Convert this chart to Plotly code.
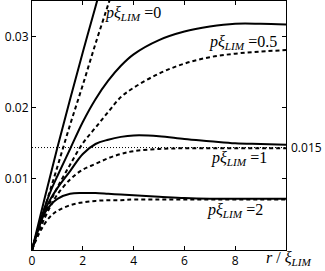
import plotly.graph_objects as go

# r / xi_LIM values and curve values
r_A = [0, 0.5, 1.0, 1.5, 2.0, 2.5, 2.6]
v_A = [0, 0.0073, 0.0144, 0.0212, 0.0278, 0.0342, 0.0355]          # p xi = 0, solid
r_B = [0, 0.5, 1.0, 1.5, 2.0, 2.5, 3.0, 3.1]
v_B = [0, 0.0059, 0.0117, 0.0176, 0.0232, 0.0290, 0.0345, 0.0356]  # p xi = 0, dashed

r_full = [0, 0.25, 0.5, 0.75, 1.0, 1.5, 2.0, 2.5, 3.0, 3.5, 4.0, 5.0, 6.0, 7.0, 8.0, 9.0, 10.0]
v_C = [0, 0.0032, 0.0060, 0.0084, 0.0104, 0.0142, 0.0180, 0.0212, 0.0238, 0.0259, 0.0275, 0.0295, 0.0307, 0.0314, 0.0318, 0.0318, 0.0317]  # 0.5 solid
v_D = [0, 0.0027, 0.0050, 0.0070, 0.0088, 0.0120, 0.0150, 0.0172, 0.0194, 0.0215, 0.0228, 0.0248, 0.0262, 0.0271, 0.0276, 0.0279, 0.0281]  # 0.5 dashed
v_E = [0, 0.0030, 0.0055, 0.0073, 0.0087, 0.0111, 0.0135, 0.0149, 0.0155, 0.0159, 0.0161, 0.0160, 0.0156, 0.0153, 0.0150, 0.0149, 0.0148]  # 1 solid
v_F = [0, 0.0024, 0.0045, 0.0063, 0.0078, 0.0099, 0.0113, 0.0121, 0.0129, 0.0135, 0.0139, 0.0142, 0.0143, 0.0143, 0.0143, 0.0143, 0.0143]  # 1 dashed
v_G = [0, 0.0029, 0.0052, 0.0064, 0.0072, 0.0079, 0.0080, 0.0080, 0.0079, 0.0078, 0.0077, 0.0075, 0.0073, 0.0072, 0.0072, 0.0072, 0.0072]  # 2 solid
v_H = [0, 0.0021, 0.0037, 0.0048, 0.0055, 0.0063, 0.0067, 0.0069, 0.0070, 0.0070, 0.0071, 0.0071, 0.0071, 0.0071, 0.0071, 0.0071, 0.0071]  # 2 dashed

asymptote = 0.0144
asym_label = "0.015"

x_ticks = [0, 2, 4, 6, 8]
y_ticks = [0.01, 0.02, 0.03]

fig = go.Figure()

solid = dict(color="black", width=2)
dashed = dict(color="black", width=2, dash="4px,3px")

fig.add_trace(go.Scatter(x=[0, 10], y=[asymptote, asymptote], mode="lines",
                         line=dict(color="black", width=1, dash="1px,2px")))
fig.add_trace(go.Scatter(x=r_A, y=v_A, mode="lines", line=solid, line_shape="spline"))
fig.add_trace(go.Scatter(x=r_B, y=v_B, mode="lines", line=dashed, line_shape="spline"))
for v, ln in [(v_C, solid), (v_D, dashed), (v_E, solid), (v_F, dashed), (v_G, solid), (v_H, dashed)]:
    fig.add_trace(go.Scatter(x=r_full, y=v, mode="lines", line=ln, line_shape="spline"))

serif = dict(family="Liberation Serif", size=16, color="black")
lab = "<i>pξ<sub>LIM</sub></i> ="
for txt, xx, yy in [(lab + "0", 2.8, 0.0332), (lab + "0.5", 6.9, 0.0291),
                    (lab + "1", 6.95, 0.0129), (lab + "2", 6.8, 0.0055)]:
    fig.add_annotation(x=xx, y=yy, text=txt, showarrow=False, xanchor="left",
                       yanchor="middle", font=serif)

fig.add_annotation(x=1.0, y=asymptote, xref="paper", text=asym_label, showarrow=False,
                   xanchor="left", xshift=3, yanchor="middle",
                   font=dict(family="Open Sans", size=12, color="black"))
fig.add_annotation(x=1.0, y=0, xref="paper", yref="paper", text="<i>r</i> / <i>ξ<sub>LIM</sub></i>",
                   showarrow=False, xanchor="center", yanchor="top", yshift=3, xshift=2,
                   font=serif)

fig.update_layout(
    width=325, height=271,
    margin=dict(l=32, r=39, t=1, b=21),
    plot_bgcolor="white", paper_bgcolor="white",
    showlegend=False,
    xaxis=dict(range=[0, 10], tickvals=x_ticks, ticktext=[str(t) for t in x_ticks],
               showgrid=False, zeroline=False, showline=True, linecolor="black", linewidth=1,
               mirror="allticks", ticks="inside", ticklen=4, tickcolor="black",
               tickfont=dict(family="Open Sans", size=12, color="black")),
    yaxis=dict(range=[0, 0.035], tickvals=y_ticks, ticktext=["0.01", "0.02", "0.03"],
               showgrid=False, zeroline=False, showline=True, linecolor="black", linewidth=1,
               mirror="allticks", ticks="inside", ticklen=4, tickcolor="black",
               tickfont=dict(family="Open Sans", size=12, color="black")),
)

fig.write_html("out.html", config={"displayModeBar": False},
               post_script="document.body.style.margin='0';document.body.style.padding='0';")
